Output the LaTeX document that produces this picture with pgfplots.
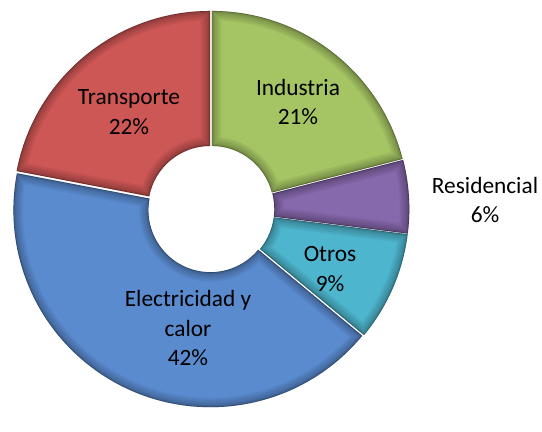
\documentclass[border=0pt]{standalone}
\usepackage{fontspec}
\setmainfont{Carlito}
\usepackage{pgfplots}
\usepackage{pgfplotstable}
\pgfplotsset{compat=1.18}

\definecolor{c0}{HTML}{A5C463}
\definecolor{c1}{HTML}{8668AC}
\definecolor{c2}{HTML}{4EB5CE}
\definecolor{c3}{HTML}{5A8BCF}
\definecolor{c4}{HTML}{CC5755}

% share of CO2 emissions by sector, clockwise from the top
\pgfplotstableread{
sector        value
Industria     21
Residencial   6
Otros         9
Electricidad  42
Transporte    22
}\sectors

% centre and radii in pixels (1px = 0.75pt)
\def\cx{211}
\def\cy{209}
\def\Ro{147.75pt}
\def\Ri{46.5pt}

\gdef\cum{90}
\pgfplotstableforeachcolumnelement{value}\of\sectors\as\v{%
  \pgfmathsetmacro\aend{\cum-3.6*\v}%
  \pgfmathsetmacro\amid{\cum-1.8*\v}%
  \expandafter\xdef\csname sa\pgfplotstablerow\endcsname{\cum}%
  \expandafter\xdef\csname ea\pgfplotstablerow\endcsname{\aend}%
  \expandafter\xdef\csname ma\pgfplotstablerow\endcsname{\amid}%
  \xdef\cum{\aend}%
}

\newcommand\slicepath[2]{%
  ([shift={(#1:\Ro)}]axis cs:\cx,\cy) arc[start angle=#1,end angle=#2,radius=\Ro]
  -- ([shift={(#2:\Ri)}]axis cs:\cx,\cy) arc[start angle=#2,end angle=#1,radius=\Ri] -- cycle}
\newcommand\slp[1]{\slicepath{\csname sa#1\endcsname}{\csname ea#1\endcsname}}

% no \edef or \foreach here: tikz commands inside an axis are run later
\newcommand\slice[1]{%
  \begin{scope}[shift={(\csname ma#1\endcsname:1pt)}, line join=round]
    \fill[c#1] \slp{#1};
    \begin{scope}
      \clip \slp{#1};
      \draw[black, opacity=0.06, line width=14pt] \slp{#1};
      \draw[black, opacity=0.06, line width=11pt] \slp{#1};
      \draw[black, opacity=0.06, line width=8pt] \slp{#1};
      \draw[black, opacity=0.06, line width=5pt] \slp{#1};
      \draw[black, opacity=0.08, line width=3pt] \slp{#1};
      \draw[black, opacity=0.25, line width=1pt] \slp{#1};
    \end{scope}
  \end{scope}}

\begin{document}
\begin{tikzpicture}
\begin{axis}[
  x=0.75pt, y=0.75pt, y dir=reverse,
  xmin=0, xmax=542, ymin=0, ymax=408,
  hide axis, clip=false,
]
\path (axis cs:0,0) rectangle (axis cs:542,408);
\pgfplotsinvokeforeach{0,...,4}{\slice{#1}}
\tikzset{lbl/.style={align=center, font=\fontsize{17.5}{22}\selectfont, inner sep=0pt}}
\node[lbl] at (axis cs:298,102) {Industria\\21\%};
\node[lbl] at (axis cs:485,200) {Residencial\\6\%};
\node[lbl] at (axis cs:330,269) {Otros\\9\%};
\node[lbl] at (axis cs:188,328) {Electricidad y\\calor\\42\%};
\node[lbl] at (axis cs:129,112) {Transporte\\22\%};
\end{axis}
\end{tikzpicture}
\end{document}
